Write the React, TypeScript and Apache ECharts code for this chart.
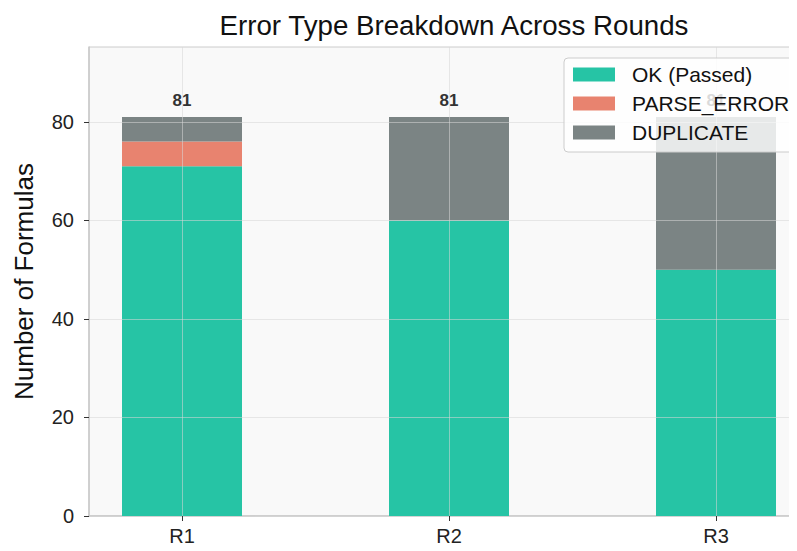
import React, { useEffect, useRef } from "react";
import * as echarts from "echarts";

const categories = ["R1", "R2", "R3"];
const okValues = [71, 60, 50];
const parseErrorValues = [5, 0, 0];
const duplicateValues = [5, 21, 31];
const totals = [81, 81, 81];
const yTicks = [0, 20, 40, 60, 80];
const yMax = 95.2;

const COLORS = {
  ok: "#26C4A5",
  parse: "#E8836F",
  dup: "#7B8484",
};

export default function App() {
  const ref = useRef<HTMLDivElement>(null);

  useEffect(() => {
    if (!ref.current) return;
    const chart = echarts.init(ref.current, undefined, { renderer: "svg" });
    const font = "'Liberation Sans', Arial, sans-serif";
    const gridTop = 47;
    const gridHeight = 469;

    const option: any = {
      animation: false,
      textStyle: { fontFamily: font },
      title: {
        text: "Error Type Breakdown Across Rounds",
        left: 449,
        textAlign: "center",
        top: 6,
        textStyle: { fontSize: 27.7, fontWeight: "normal", color: "#111", fontFamily: font },
      },
      legend: {
        orient: "vertical",
        left: 564,
        top: 58,
        padding: [6, 8, 9, 9],
        itemWidth: 42,
        itemHeight: 14,
        itemGap: 8,
        icon: "rect",
        backgroundColor: "rgba(255,255,255,0.82)",
        borderColor: "#cccccc",
        borderWidth: 1,
        borderRadius: 4,
        z: 20,
        textStyle: { fontSize: 21, color: "#111", padding: [0, 0, 0, 12], fontFamily: font },
        data: ["OK (Passed)", "PARSE_ERROR", "DUPLICATE"],
      },
      grid: [
        {
          // bars: category bands 267px wide, centred on R1/R2/R3 ticks
          left: 48.5,
          top: gridTop,
          width: 801,
          height: gridHeight,
          show: false,
          containLabel: false,
          outerBoundsMode: "none",
        },
        {
          // visible plot frame
          left: 89,
          top: gridTop,
          width: 720,
          height: gridHeight,
          show: true,
          backgroundColor: "#f9f9f9",
          borderColor: "#cccccc",
          borderWidth: 1,
          containLabel: false,
          outerBoundsMode: "none",
        },
      ],
      xAxis: [
        {
          gridIndex: 0,
          type: "category",
          data: categories,
          boundaryGap: true,
          axisLine: { show: false },
          splitLine: { show: false },
          axisTick: { show: true, alignWithLabel: true, length: 5, lineStyle: { color: "#333", width: 1 } },
          axisLabel: { fontSize: 20, color: "#222", margin: 10, fontFamily: font },
          z: 6,
        },
        {
          gridIndex: 1,
          type: "value",
          min: 0,
          max: 1,
          axisLine: { show: true, onZero: false, lineStyle: { color: "#c8c8c8", width: 1.5 } },
          axisTick: { show: false },
          axisLabel: { show: false },
          splitLine: { show: false },
        },
      ],
      yAxis: [
        {
          gridIndex: 0,
          type: "value",
          min: 0,
          max: yMax,
          show: false,
          splitLine: { show: false },
        },
        {
          gridIndex: 1,
          type: "value",
          min: 0,
          max: yMax,
          interval: 20,
          name: "Number of Formulas",
          nameLocation: "middle",
          nameGap: 52,
          nameMoveOverlap: false,
          nameTextStyle: { fontSize: 26, color: "#111", fontFamily: font },
          splitLine: { show: true, lineStyle: { color: "rgba(215,215,215,0.55)", width: 1 } },
          axisLine: { show: true, onZero: false, lineStyle: { color: "#c8c8c8", width: 1.5 } },
          axisTick: { show: true, customValues: yTicks, length: 5, lineStyle: { color: "#333", width: 1 } },
          axisLabel: { customValues: yTicks, fontSize: 20, color: "#222", margin: 15, fontFamily: font },
          z: 6,
        },
      ],
      series: [
        {
          name: "OK (Passed)",
          type: "bar",
          xAxisIndex: 0,
          yAxisIndex: 0,
          stack: "total",
          barWidth: 120,
          itemStyle: { color: COLORS.ok },
          data: okValues,
        },
        {
          name: "PARSE_ERROR",
          type: "bar",
          xAxisIndex: 0,
          yAxisIndex: 0,
          stack: "total",
          barWidth: 120,
          itemStyle: { color: COLORS.parse },
          data: parseErrorValues,
        },
        {
          name: "DUPLICATE",
          type: "bar",
          xAxisIndex: 0,
          yAxisIndex: 0,
          stack: "total",
          barWidth: 120,
          itemStyle: { color: COLORS.dup },
          label: {
            show: true,
            position: "top",
            distance: 8,
            formatter: (p: any) => String(totals[p.dataIndex]),
            fontSize: 17,
            fontWeight: "bold",
            color: "#333",
            fontFamily: font,
          },
          data: duplicateValues,
        },
        {
          name: "gridlines",
          type: "line",
          xAxisIndex: 0,
          yAxisIndex: 0,
          data: [],
          z: 5,
          silent: true,
          markLine: {
            silent: true,
            symbol: ["none", "none"],
            label: { show: false },
            lineStyle: { color: "rgba(215,215,215,0.55)", width: 1, type: "solid" },
            data: categories.map((_, i) => ({ xAxis: i })),
          },
        },
      ],
    };
    chart.setOption(option);
    return () => chart.dispose();
  }, []);

  return <div ref={ref} style={{ width: 797, height: 551, margin: -8 }} />;
}
